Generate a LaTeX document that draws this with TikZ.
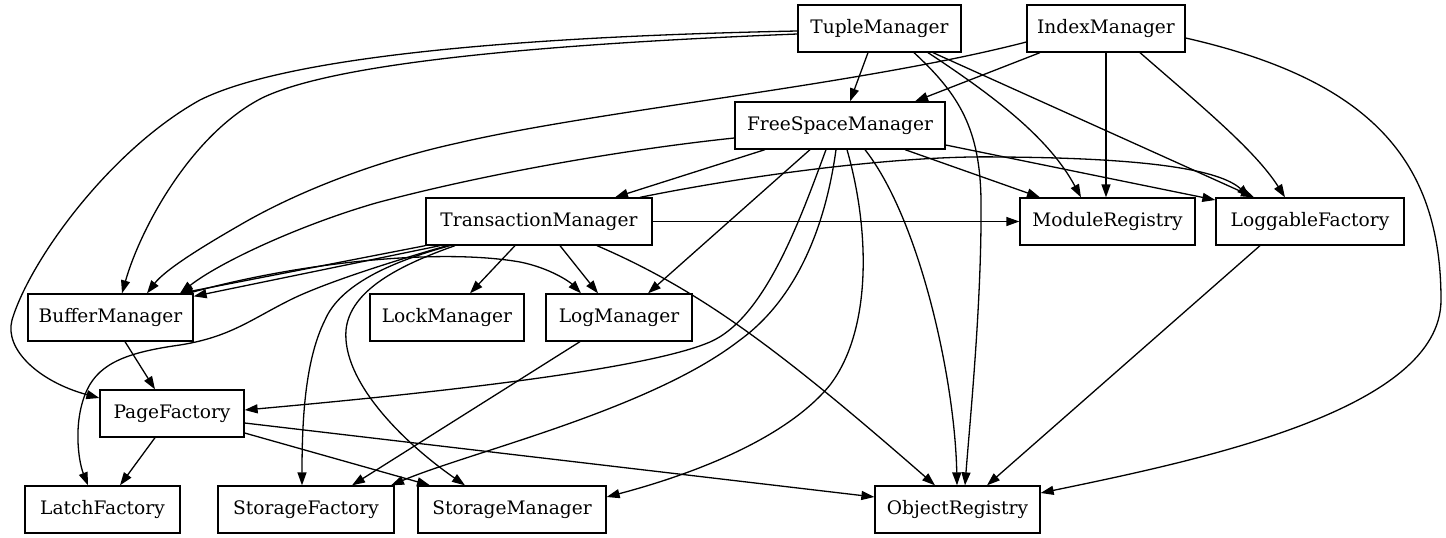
\documentclass[tikz,border=0pt]{standalone}
\usepackage{fontspec}
\setmainfont{DejaVu Serif}
\usetikzlibrary{arrows.meta,calc}
\tikzset{
  box/.style={draw, line width=1.3pt, rectangle, minimum height=47pt, inner sep=0pt, font=\fontsize{18.6pt}{22pt}\selectfont},
  dep/.style={draw, line width=1.3pt, -{Triangle[length=13pt,width=9pt]}}
}
\begin{document}
\begin{tikzpicture}[x=1pt,y=-1pt]
\useasboundingbox[fill=white] (0,0) rectangle (1446,538);
% nodes
\node[box, minimum width=163pt] (TM) at (879.5,28.5) {TupleManager};
\node[box, minimum width=158pt] (IM) at (1106,28.5) {IndexManager};
\node[box, minimum width=210pt] (FSM) at (840,125.5) {FreeSpaceManager};
\node[box, minimum width=226pt] (TrM) at (539,221.5) {TransactionManager};
\node[box, minimum width=175pt] (MR) at (1107.5,221.5) {ModuleRegistry};
\node[box, minimum width=188pt] (LF) at (1310,221.5) {LoggableFactory};
\node[box, minimum width=165pt] (BM) at (110.5,317.5) {BufferManager};
\node[box, minimum width=154pt] (LockM) at (447,317.5) {LockManager};
\node[box, minimum width=146pt] (LogM) at (619,317.5) {LogManager};
\node[box, minimum width=144pt] (PF) at (172,413.5) {PageFactory};
\node[box, minimum width=155pt] (LatF) at (102.5,509.5) {LatchFactory};
\node[box, minimum width=176pt] (SF) at (306,509.5) {StorageFactory};
\node[box, minimum width=188pt] (SM) at (512,509.5) {StorageManager};
\node[box, minimum width=165pt] (OR) at (957.5,509.5) {ObjectRegistry};
% TupleManager
\path[dep] ($(TM.south)+(-11.5,0)$) -- ($(FSM.north)+(10,0)$);
\path[dep] ($(TM.west)+(0,5.5)$) .. controls (520,45) and (330,65) .. (262,98) .. controls (190,135) and (140,230) .. ($(BM.north)+(11.5,0)$);
\path[dep] ($(TM.west)+(0,2.5)$) .. controls (450,38) and (270,65) .. (200,100) .. controls (110,150) and (30,260) .. (12,320) .. controls (4,350) and (40,382) .. ($(PF.west)+(0,-15.5)$);
\path[dep] ($(TM.south)+(34.5,0)$) .. controls (960,95) and (980,130) .. (981,200) .. controls (982,300) and (970,420) .. ($(OR.north)+(7.5,0)$);
\path[dep] ($(TM.south)+(48.5,0)$) .. controls (1000,100) and (1050,140) .. ($(MR.north)+(-26.5,0)$);
\path[dep] ($(TM.south)+(53.5,0)$) -- ($(LF.north)+(-56,0)$);
% IndexManager
\path[dep] ($(IM.south)+(-66,0)$) -- ($(FSM.north)+(75,0)$);
\path[dep] (IM.south) -- (IM.south |- MR.north);
\path[dep] ($(IM.south)+(34,0)$) .. controls (1200,105) and (1255,150) .. ($(LF.north)+(-25,0)$);
\path[dep] ($(IM.east)+(0,9.5)$) .. controls (1370,80) and (1441,160) .. (1441,300) .. controls (1441,410) and (1200,460) .. ($(OR.east)+(0,-16.5)$);
\path[dep] ($(IM.west)+(0,13.5)$) .. controls (860,85) and (600,110) .. (458,143) .. controls (380,160) and (300,190) .. (240,225) .. controls (200,248) and (165,270) .. ($(BM.north)+(36.5,0)$);
% FreeSpaceManager
\path[dep] ($(FSM.south)+(-75,0)$) -- ($(TrM.north)+(76,0)$);
\path[dep] ($(FSM.west)+(0,12.5)$) .. controls (620,150) and (480,175) .. (376,203) .. controls (300,225) and (220,262) .. ($(BM.north)+(69.5,0)$);
\path[dep] ($(FSM.south)+(65,0)$) -- ($(MR.north)+(-67.5,0)$);
\path[dep] ($(FSM.east)+(0,19.5)$) -- ($(LF.west)+(0,-21.5)$);
\path[dep] ($(FSM.south)+(-30,0)$) -- ($(LogM.north)+(29,0)$);
\path[dep] ($(FSM.south)+(-14,0)$) .. controls (800,220) and (765,318) .. (710,342) .. controls (640,372) and (400,396) .. ($(PF.east)+(0,-3.5)$);
\path[dep] ($(FSM.south)+(-4,0)$) .. controls (825,230) and (795,300) .. (740,340) .. controls (650,410) and (470,452) .. ($(SF.north)+(85,0)$);
\path[dep] ($(FSM.south)+(7,0)$) .. controls (870,230) and (872,330) .. (830,385) .. controls (785,440) and (690,475) .. ($(SM.east)+(0,-12.5)$);
\path[dep] ($(FSM.south)+(25,0)$) .. controls (920,220) and (955,380) .. ($(OR.north)+(-0.5,0)$);
% TransactionManager
\path[dep] (TrM.east) -- (MR.west);
\path[dep] ($(TrM.north)+(101,0)$) .. controls (750,175) and (900,155) .. (1000,157) .. controls (1150,158) and (1220,170) .. ($(LF.north)+(-60,0)$);
\path[dep] ($(TrM.south)+(-24,0)$) -- ($(LockM.north)+(23,0)$);
\path[dep] ($(TrM.south)+(21,0)$) -- ($(LogM.north)+(-21,0)$);
\path[dep] ($(TrM.south)+(58,0)$) .. controls (700,290) and (780,350) .. ($(OR.north)+(-22.5,0)$);
\path[dep] (TrM.south west) -- ($(BM.north)+(69.5,0)$);
\path[dep] ($(TrM.south)+(-99,0)$) -- ($(BM.north east)+(0,3)$);
\path[dep] ($(TrM.south)+(-92,0)$) .. controls (380,265) and (320,285) .. (290,300) .. controls (250,320) and (230,337) .. (180,345) .. controls (130,352) and (100,362) .. (87,390) .. controls (73,420) and (78,460) .. ($(LatF.north)+(-14.5,0)$);
\path[dep] ($(TrM.south)+(-89,0)$) .. controls (390,262) and (340,285) .. (325,320) .. controls (305,360) and (302,420) .. ($(SF.north)+(-4,0)$);
\path[dep] ($(TrM.south)+(-84,0)$) .. controls (400,265) and (350,290) .. (346,330) .. controls (342,380) and (400,440) .. ($(SM.north)+(-47,0)$);
% others
\path[dep] ($(BM.south)+(14.5,0)$) -- ($(PF.north)+(-17,0)$);
\path[dep] ($(BM.north)+(77.5,0)$) .. controls (300,262) and (440,248) .. (520,262) .. controls (550,268) and (570,282) .. ($(LogM.north)+(-38,0)$);
\path[dep] ($(LogM.south)+(-39,0)$) -- ($(SF.north)+(46,0)$);
\path[dep] ($(PF.south)+(-17,0)$) -- ($(LatF.north)+(17.5,0)$);
\path[dep] ($(PF.east)+(0,19.5)$) -- ($(SM.north)+(-82,0)$);
\path[dep] ($(PF.east)+(0,9.5)$) -- ($(OR.west)+(0,-12.5)$);
\path[dep] ($(LF.south)+(-50,0)$) -- ($(OR.north)+(29.5,0)$);
\end{tikzpicture}
\end{document}
